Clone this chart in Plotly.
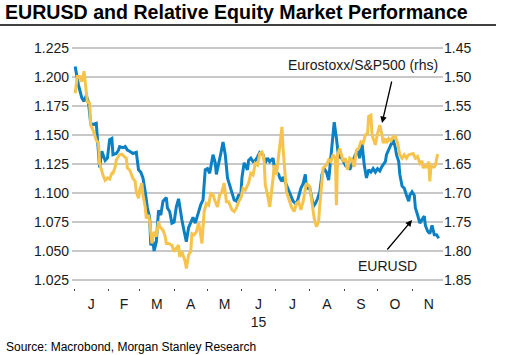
import pandas as pd
import plotly.graph_objects as go

# ---- data (day offsets from 1 Jan 2015) ----
eur_day = [1,4,7,9,11,13,15,17,20,21,23,25,26,28,30,32,34,35,38,40,41,44,46,48,50,53,56,58,60,62,64,66,68,69,71,72,74,76,78,80,83,84,86,88,90,92,94,95,97,99,101,103,106,107,109,112,114,116,118,120,122,125,127,128,130,132,134,136,138,140,142,144,146,148,150,151,153,154,156,157,159,161,163,165,167,170,172,174,176,179,181,182,184,185,187,188,191,193,195,197,200,202,204,206,208,209,212,214,215,217,219,221,223,225,227,229,231,233,234,236,238,239,242,244,246,248,251,253,255,257,258,259,261,263,265,267,269,271,273,275,277,280,281,283,285,287,289,290,292,293,295,297,299,301,302,304,306,307,309,311,313,315,316,318,320,322,324,326,328]
eur_val = [1.209,1.193,1.182,1.179,1.184,1.178,1.160,1.159,1.160,1.147,1.122,1.136,1.133,1.128,1.130,1.146,1.147,1.133,1.134,1.137,1.140,1.139,1.140,1.137,1.136,1.134,1.135,1.120,1.118,1.113,1.101,1.087,1.079,1.055,1.058,1.050,1.058,1.085,1.081,1.093,1.096,1.087,1.084,1.074,1.075,1.088,1.095,1.088,1.077,1.067,1.058,1.070,1.078,1.079,1.074,1.085,1.090,1.094,1.120,1.121,1.117,1.133,1.126,1.116,1.124,1.134,1.144,1.133,1.113,1.107,1.101,1.094,1.093,1.098,1.098,1.113,1.126,1.124,1.120,1.128,1.130,1.127,1.128,1.131,1.135,1.133,1.126,1.130,1.127,1.130,1.116,1.118,1.116,1.113,1.110,1.114,1.107,1.101,1.098,1.093,1.090,1.097,1.104,1.108,1.116,1.104,1.104,1.095,1.088,1.091,1.095,1.101,1.116,1.121,1.118,1.111,1.131,1.146,1.161,1.147,1.130,1.133,1.127,1.124,1.127,1.120,1.128,1.133,1.136,1.130,1.140,1.143,1.124,1.113,1.120,1.118,1.121,1.118,1.121,1.119,1.123,1.127,1.133,1.137,1.141,1.146,1.139,1.133,1.127,1.116,1.106,1.104,1.098,1.093,1.098,1.101,1.098,1.087,1.081,1.074,1.077,1.080,1.072,1.067,1.065,1.072,1.064,1.064,1.061]

ratio_day = [1,3,5,7,9,11,12,14,15,17,20,22,23,26,28,30,32,34,35,37,38,41,43,45,47,48,50,53,55,56,58,59,61,62,64,65,67,68,70,72,74,76,77,80,82,83,85,88,90,92,94,95,97,98,100,101,103,105,106,108,110,112,113,115,117,119,121,123,125,127,129,131,133,135,137,139,142,144,146,148,150,152,154,157,159,161,163,165,167,169,170,171,172,174,176,179,180,182,183,185,187,188,190,191,194,196,198,200,202,204,206,209,212,214,216,218,220,221,223,224,227,229,231,233,235,236,237,239,242,244,246,248,250,252,254,256,258,260,262,264,265,267,268,270,271,273,275,277,278,280,281,283,285,287,289,291,293,295,297,299,301,303,305,307,309,311,313,314,316,317,319,320,321,322,324,325,327]
ratio_val = [1.528,1.499,1.499,1.508,1.490,1.519,1.543,1.545,1.583,1.591,1.609,1.614,1.649,1.669,1.678,1.674,1.676,1.666,1.666,1.655,1.643,1.634,1.633,1.637,1.640,1.657,1.660,1.675,1.680,1.698,1.709,1.695,1.683,1.703,1.724,1.744,1.738,1.749,1.787,1.767,1.775,1.749,1.758,1.764,1.775,1.787,1.787,1.790,1.801,1.795,1.790,1.810,1.801,1.807,1.818,1.830,1.807,1.801,1.770,1.772,1.767,1.752,1.761,1.787,1.732,1.718,1.721,1.701,1.703,1.715,1.724,1.703,1.698,1.683,1.715,1.715,1.729,1.732,1.726,1.715,1.709,1.692,1.695,1.683,1.666,1.669,1.649,1.652,1.632,1.629,1.634,1.646,1.686,1.703,1.724,1.675,1.652,1.669,1.652,1.629,1.586,1.623,1.675,1.698,1.715,1.726,1.732,1.718,1.715,1.729,1.715,1.683,1.689,1.721,1.744,1.758,1.749,1.721,1.669,1.657,1.652,1.643,1.646,1.634,1.640,1.721,1.634,1.623,1.646,1.640,1.660,1.640,1.643,1.655,1.626,1.623,1.612,1.614,1.600,1.597,1.568,1.566,1.600,1.610,1.617,1.597,1.583,1.600,1.614,1.606,1.614,1.606,1.610,1.603,1.603,1.614,1.634,1.640,1.634,1.640,1.634,1.633,1.632,1.640,1.637,1.649,1.645,1.657,1.652,1.657,1.646,1.680,1.652,1.655,1.655,1.652,1.633]

month_starts = ["2015-01-01","2015-02-01","2015-03-01","2015-04-01","2015-05-01","2015-06-01",
                "2015-07-01","2015-08-01","2015-09-01","2015-10-01","2015-11-01","2015-12-01"]
month_labels = ["J","F","M","A","M","J<br>15","J","A","S","O","N"]
left_ticks = [1.025,1.050,1.075,1.100,1.125,1.150,1.175,1.200,1.225]
right_ticks = [1.45,1.50,1.55,1.60,1.65,1.70,1.75,1.80,1.85]

base = pd.Timestamp("2015-01-01")
eur_x = base + pd.to_timedelta(eur_day, unit="D")
ratio_x = base + pd.to_timedelta(ratio_day, unit="D")
ms = pd.to_datetime(month_starts)
mid = [ms[i] + (ms[i+1] - ms[i]) / 2 for i in range(len(ms) - 1)]

BLUE = "#0b80c3"
YELLOW = "#f6c34c"
FONT = "Liberation Sans, Arial, sans-serif"

fig = go.Figure()
fig.add_trace(go.Scatter(x=eur_x, y=eur_val, mode="lines", name="EURUSD",
                         line=dict(color=BLUE, width=3), yaxis="y"))
fig.add_trace(go.Scatter(x=ratio_x, y=ratio_val, mode="lines", name="Eurostoxx/S&P500 (rhs)",
                         line=dict(color=YELLOW, width=3), yaxis="y2"))

fig.update_layout(
    width=531, height=355,
    margin=dict(l=72, r=88, t=44, b=67),
    paper_bgcolor="white", plot_bgcolor="white",
    showlegend=False,
    font=dict(family=FONT, size=14, color="#1a1a1a"),
    title=dict(text="<b>EURUSD and Relative Equity Market Performance</b>",
               font=dict(family=FONT, size=19.6, color="black"),
               x=5/531, xanchor="left", xref="container",
               y=1-12.5/355, yanchor="middle", yref="container"),
    xaxis=dict(type="date", range=["2014-12-30 04:00", "2015-11-28 20:00"],
               tickmode="array", tickvals=mid, ticktext=month_labels,
               ticks="", showgrid=False, zeroline=False, showline=False,
               tickfont=dict(size=14), ticklabelstandoff=6,
               minor=dict(tickmode="array", tickvals=list(ms[:-1]), ticks="outside",
                          ticklen=2, tickwidth=1, tickcolor="#444", showgrid=False)),
    yaxis=dict(range=[1.0181, 1.2284], tickmode="array", tickvals=left_ticks,
               tickformat=".3f", showgrid=True, gridcolor="#c8c8c8", gridwidth=1.5,
               zeroline=False, showline=False, ticks="", ticklabelstandoff=2),
    yaxis2=dict(range=[1.8638, 1.4431], overlaying="y", side="right",
                tickmode="array", tickvals=right_ticks, tickformat=".2f",
                showgrid=False, zeroline=False, showline=False, ticks=""),
    annotations=[
        dict(text="Eurostoxx/S&P500 (rhs)", x="2015-09-18", y=1.2103, xref="x", yref="y",
             showarrow=False, font=dict(size=14, color="#1a1a1a")),
        dict(text="", x="2015-10-05", y=1.1603, xref="x", yref="y",
             showarrow=True, ax=10, ay=-43, arrowhead=2, arrowsize=1, arrowwidth=1.3,
             arrowcolor="black"),
        dict(text="EURUSD", x="2015-10-09 12:00", y=1.0371, xref="x", yref="y",
             showarrow=False, font=dict(size=14, color="#1a1a1a")),
        dict(text="", x="2015-11-01", y=1.0767, xref="x", yref="y",
             showarrow=True, ax=-26, ay=31, arrowhead=2, arrowsize=1, arrowwidth=1.3,
             arrowcolor="black"),
        dict(text="Source: Macrobond, Morgan Stanley Research", xref="paper", yref="paper",
             x=-68/371, y=-(347-288)/244, xanchor="left", yanchor="middle",
             showarrow=False, font=dict(size=12, color="black")),
    ],
    shapes=[dict(type="line", xref="paper", yref="paper",
                 x0=-72/371, x1=(496-72)/371, y0=(288-25)/244, y1=(288-25)/244,
                 line=dict(color="black", width=1.5))],
)

fig.write_html("out.html",
               config={"displayModeBar": False},
               post_script="document.body.style.margin='0';document.body.style.padding='0';")
